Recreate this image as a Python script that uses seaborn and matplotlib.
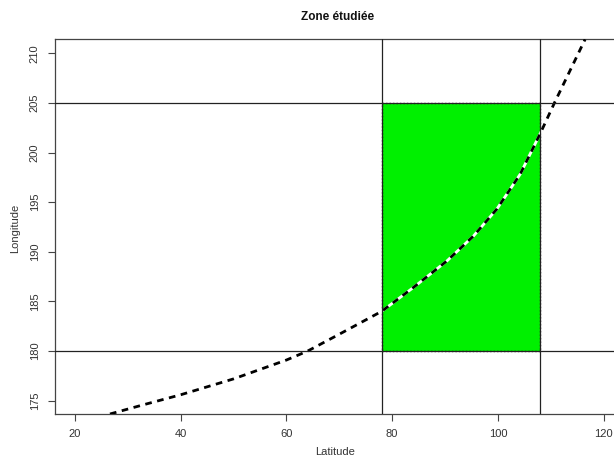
import matplotlib
matplotlib.use("Agg")
import matplotlib.pyplot as plt
from matplotlib.patches import Rectangle
import seaborn as sns
import pandas as pd

# Data
lat = [26.6, 33.0, 40.0, 50.0, 60.0, 64.0, 70.0, 78.0, 84.0, 90.4, 95.4, 99.8, 104.2, 108.0, 110.7, 116.5]
lon = [173.66, 174.6, 175.6, 177.2, 179.1, 180.0, 181.7, 184.0, 186.4, 189.1, 191.6, 194.3, 197.8, 201.9, 205.0, 211.4]
zone_lat = [78.0, 108.0]
zone_lon = [180.0, 205.0]
x_ticks = [20, 40, 60, 80, 100, 120]
y_ticks = [175, 180, 185, 190, 195, 200, 205, 210]
title = "Zone étudiée"
xlabel = "Latitude"
ylabel = "Longitude"

sns.set_style("white")
plt.rcParams['font.family'] = ['Liberation Sans', 'DejaVu Sans']

W, H = 614, 462
fig = plt.figure(figsize=(W / 100, H / 100), dpi=100)
left, right, top, bottom = 55, 630, 39, 414
ax = fig.add_axes([left / W, (H - bottom) / H, (right - left) / W, (bottom - top) / H])

ax.set_xlim(16.2, 125.0)
ax.set_ylim(173.66, 211.44)

# Zone rectangle
ax.add_patch(Rectangle((zone_lat[0], zone_lon[0]), zone_lat[1] - zone_lat[0], zone_lon[1] - zone_lon[0],
                       facecolor="#00f000", edgecolor="#222222", linestyle=(0, (1, 1.5)), linewidth=1.0, zorder=1))

df = pd.DataFrame({"lat": lat, "lon": lon})
sns.lineplot(data=df, x="lat", y="lon", sort=False, color="white", linewidth=2.0, ax=ax, zorder=2)
sns.lineplot(data=df, x="lat", y="lon", sort=False, color="black", linewidth=2.0, ax=ax, zorder=3,
             linestyle=(0, (2.4, 2.0)))

for v in zone_lat:
    ax.axvline(v, color="#222222", linewidth=0.9, zorder=4)
for h in zone_lon:
    ax.axhline(h, color="#222222", linewidth=0.9, zorder=4)

ax.set_xticks(x_ticks)
ax.set_yticks(y_ticks)
ax.set_xticklabels([str(t) for t in x_ticks])
ax.set_yticklabels([str(t) for t in y_ticks], rotation=90, va="center")
ax.tick_params(axis="both", direction="out", length=5, width=0.8, color="#444444",
               labelsize=8, labelcolor="#333333", pad=6, bottom=True, left=True)
for s in ax.spines.values():
    s.set_color("#444444")
    s.set_linewidth(0.9)

ax.set_xlabel("")
ax.set_ylabel("")
fig.text(338 / W, 1 - 17 / H, title, ha="center", va="center", fontsize=8.5, fontweight="bold", color="#111111")
fig.text(335 / W, 1 - 452 / H, xlabel, ha="center", va="center", fontsize=8, color="#333333")
fig.text(15 / W, 1 - 228 / H, ylabel, ha="center", va="center", fontsize=8, color="#333333", rotation=90)

fig.savefig("out.png", dpi=100)
